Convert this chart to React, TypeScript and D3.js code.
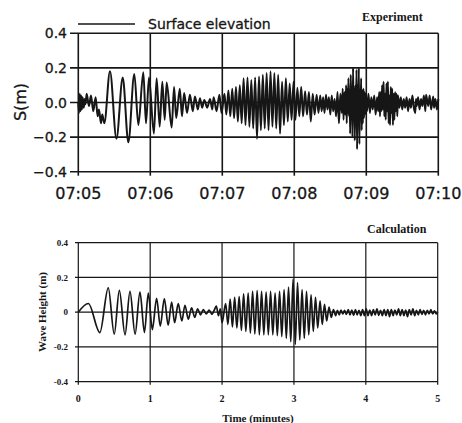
import React from "react";
import * as d3 from "d3";

type P = [number, number];

// ---------- Experiment (top) : time in minutes after 07:05, elevation in m ----------
const expStart: P[] = [[0,0.0],[0.01,-0.06],[0.02,0.05],[0.03,-0.05],[0.04,0.04],[0.05,-0.04],[0.06,0.03],[0.075,-0.03],[0.09,0.02],[0.10,-0.01],[0.116,0.05],[0.148,-0.02],[0.176,0.04],[0.208,-0.05],[0.241,0.03],[0.269,-0.08],[0.287,-0.04],[0.315,-0.12],[0.333,-0.07],[0.361,-0.12]];
const expGroup1: P[] = [[0.44,0.18],[0.53,-0.21],[0.617,0.145],[0.695,-0.23],[0.778,0.165],[0.834,-0.13],[0.903,0.175],[0.94,-0.12],[0.982,0.145],[1.05,-0.18],[1.088,0.14],[1.13,-0.14],[1.167,0.12],[1.20,-0.10],[1.227,0.115],[1.297,-0.145],[1.33,0.09],[1.36,-0.09],[1.41,0.08],[1.44,-0.08],[1.47,0.055],[1.51,-0.06],[1.55,0.045],[1.59,-0.05],[1.62,0.035],[1.66,-0.04],[1.69,0.025],[1.72,-0.03],[1.75,0.015],[1.79,-0.03],[1.83,0.02],[1.86,-0.04],[1.88,0.03],[1.92,-0.05],[1.96,0.045],[1.99,-0.06]];
const expGroup2: P[] = [[2.03,0.05],[2.056,-0.07],[2.085,0.07],[2.111,-0.08],[2.138,0.08],[2.164,-0.09],[2.19,0.09],[2.216,-0.11],[2.243,0.10],[2.269,-0.12],[2.296,0.14],[2.322,-0.13],[2.35,0.145],[2.376,-0.14],[2.403,0.13],[2.429,-0.15],[2.456,0.145],[2.482,-0.21],[2.51,0.15],[2.536,-0.16],[2.563,0.16],[2.589,-0.15],[2.616,0.17],[2.642,-0.16],[2.67,0.18],[2.696,-0.14],[2.723,0.17],[2.749,-0.15],[2.776,0.16],[2.802,-0.18],[2.83,0.12],[2.856,-0.13],[2.883,0.14],[2.909,-0.11],[2.936,0.11],[2.962,-0.10],[2.99,0.12],[3.016,-0.10],[3.043,0.085],[3.069,-0.08],[3.096,0.09],[3.122,-0.08],[3.15,0.065],[3.176,-0.07],[3.203,0.06],[3.229,-0.11],[3.256,0.05],[3.282,-0.07],[3.31,0.045],[3.336,-0.06]];
const expBurst1: P[] = [[3.36,0.04],[3.38,-0.05],[3.40,0.03],[3.42,-0.06],[3.44,0.045],[3.46,-0.04],[3.48,0.03],[3.50,-0.07],[3.52,0.04],[3.54,-0.05],[3.56,0.02],[3.58,-0.08],[3.60,0.06],[3.62,-0.12],[3.64,0.05],[3.66,-0.06],[3.672,0.08],[3.684,-0.10],[3.696,0.06],[3.708,-0.07],[3.72,0.10],[3.728,-0.12],[3.736,0.08],[3.744,-0.06],[3.752,0.14],[3.76,-0.08],[3.768,0.07],[3.776,-0.18],[3.784,0.16],[3.792,-0.06],[3.80,0.06],[3.808,-0.20],[3.816,0.20],[3.824,-0.08],[3.832,0.08],[3.84,-0.22],[3.848,0.10],[3.856,-0.10],[3.864,0.19],[3.872,-0.27],[3.88,0.10],[3.888,-0.12],[3.896,0.20],[3.904,-0.24],[3.912,0.06],[3.92,-0.08],[3.928,0.14],[3.936,-0.16],[3.944,0.07],[3.952,-0.12],[3.96,0.08],[3.968,-0.09],[3.976,0.06],[3.984,-0.07],[3.992,0.05]];
const expBurst2: P[] = [[4.01,-0.05],[4.03,0.05],[4.05,-0.06],[4.07,0.03],[4.09,-0.04],[4.11,0.04],[4.13,-0.07],[4.15,0.03],[4.165,-0.05],[4.18,0.06],[4.19,-0.08],[4.20,0.06],[4.21,-0.05],[4.22,0.10],[4.23,-0.04],[4.24,0.12],[4.25,-0.08],[4.26,0.05],[4.27,-0.10],[4.28,0.11],[4.29,-0.05],[4.30,0.12],[4.31,-0.12],[4.32,0.04],[4.33,-0.13],[4.34,0.09],[4.35,-0.06],[4.36,0.08],[4.37,-0.13],[4.38,0.05],[4.39,-0.10],[4.40,0.06],[4.41,-0.05],[4.42,0.05],[4.43,-0.08],[4.44,0.04]];
const expTail: P[] = [[4.46,-0.03],[4.48,0.03],[4.50,-0.04],[4.52,0.02],[4.54,-0.03],[4.56,0.03],[4.58,-0.05],[4.60,0.02],[4.62,-0.03],[4.64,0.04],[4.66,-0.03],[4.68,-0.06],[4.69,0.02],[4.70,-0.02],[4.72,0.03],[4.74,-0.04],[4.76,0.02],[4.78,-0.02],[4.80,0.04],[4.82,-0.05],[4.83,0.045],[4.86,-0.02],[4.88,0.04],[4.90,-0.04],[4.93,0.035],[4.94,-0.03],[4.96,0.02],[4.98,-0.04],[5.0,0.02]];

// ---------- Calculation (bottom) : time in minutes, wave height in m ----------
const calcGroup1: P[] = [[0,0],[0.14,0.05],[0.30,-0.117],[0.417,0.14],[0.50,-0.126],[0.571,0.126],[0.65,-0.13],[0.719,0.12],[0.79,-0.126],[0.858,0.116],[0.92,-0.117],[0.974,0.11],[1.03,-0.10],[1.09,0.08],[1.14,-0.08],[1.197,0.078],[1.25,-0.075],[1.299,0.058],[1.34,-0.06],[1.39,0.05],[1.44,-0.05],[1.484,0.04],[1.53,-0.04],[1.576,0.025],[1.62,-0.03],[1.66,0.02],[1.70,-0.015],[1.74,0.015],[1.78,-0.01],[1.82,0.012],[1.86,-0.012],[1.89,0.01],[1.92,0.035],[1.95,-0.02],[1.975,0.02],[2.0,-0.06]];
const calcGroup2: P[] = [[2.05,0.05],[2.081,-0.07],[2.113,0.075],[2.144,-0.085],[2.175,0.085],[2.206,-0.09],[2.238,0.09],[2.269,-0.105],[2.3,0.105],[2.331,-0.11],[2.363,0.11],[2.394,-0.12],[2.425,0.12],[2.456,-0.125],[2.488,0.125],[2.519,-0.13],[2.55,0.12],[2.581,-0.13],[2.613,0.115],[2.644,-0.13],[2.675,0.12],[2.706,-0.13],[2.738,0.11],[2.769,-0.135],[2.8,0.12],[2.831,-0.14],[2.863,0.13],[2.894,-0.15],[2.925,0.145],[2.956,-0.17],[2.988,0.19],[3.019,-0.185],[3.05,0.17],[3.081,-0.16],[3.113,0.13],[3.144,-0.15],[3.175,0.12],[3.206,-0.13],[3.238,0.10],[3.269,-0.11],[3.3,0.085],[3.331,-0.09],[3.363,0.065],[3.394,-0.07],[3.425,0.045],[3.456,-0.05],[3.488,0.03],[3.519,-0.03],[3.55,0.015]];
const calcTail: P[] = [[3.58,-0.02],[3.605,0.01],[3.63,-0.015],[3.655,0.012],[3.68,-0.01],[3.705,0.01],[3.73,-0.012],[3.755,0.015],[3.78,-0.015],[3.805,0.012],[3.83,-0.018],[3.855,0.015],[3.88,-0.015],[3.905,0.01],[3.93,-0.02],[3.955,0.015],[3.98,-0.02],[4.005,0.02],[4.03,-0.02],[4.055,0.012],[4.08,-0.02],[4.105,0.015],[4.13,-0.015],[4.155,0.02],[4.18,-0.018],[4.205,0.01],[4.23,-0.02],[4.255,0.015],[4.28,-0.02],[4.305,0.015],[4.33,-0.025],[4.355,0.015],[4.38,-0.02],[4.405,0.012],[4.43,-0.015],[4.455,0.02],[4.48,-0.02],[4.505,0.015],[4.53,-0.02],[4.555,0.012],[4.58,-0.025],[4.605,0.015],[4.63,-0.015],[4.655,0.02],[4.68,-0.02],[4.705,0.01],[4.73,-0.015],[4.755,0.015],[4.78,-0.012],[4.805,0.01],[4.83,-0.015],[4.855,0.01],[4.88,-0.01],[4.905,0.015],[4.93,-0.01],[4.955,0.008],[4.98,-0.01],[5.0,0.0]];

// ---------- ticks ----------
const xTickValues = [0, 1, 2, 3, 4, 5];
const timeLabels = ["07:05", "07:06", "07:07", "07:08", "07:09", "07:10"];
const minuteLabels = ["0", "1", "2", "3", "4", "5"];
const yTickValues = [0.4, 0.2, 0, -0.2, -0.4];
const yLabelsTop = ["0.4", "0.2", "0.0", "\u22120.2", "\u22120.4"];
const yLabelsBottom = ["0.4", "0.2", "0", "-0.2", "-0.4"];

const INK = "#161616";

export default function App() {
  const expData = [...expStart, ...expGroup1, ...expGroup2, ...expBurst1, ...expBurst2, ...expTail];
  const calcData = [...calcGroup1, ...calcGroup2, ...calcTail];

  const xTop = d3.scaleLinear().domain([0, 5]).range([78.3, 438.3]);
  const yTop = d3.scaleLinear().domain([-0.4, 0.4]).range([171.7, 33.3]);
  const xBot = d3.scaleLinear().domain([0, 5]).range([78.3, 437.7]);
  const yBot = d3.scaleLinear().domain([-0.4, 0.4]).range([381.7, 242.7]);

  const lineTop = d3.line<P>().x(d => xTop(d[0])).y(d => yTop(d[1])).curve(d3.curveMonotoneX);
  const lineBot = d3.line<P>().x(d => xBot(d[0])).y(d => yBot(d[1])).curve(d3.curveMonotoneX);

  const sans = "DejaVu Sans, Verdana, sans-serif";
  const serif = "Liberation Serif, Times New Roman, serif";

  return (
    <div style={{ position: "absolute", left: 0, top: 0 }}>
      <svg width={462} height={423} viewBox="0 0 462 423" style={{ display: "block", background: "#fff" }}>
        {/* ===== Top panel ===== */}
        <g>
          {yTickValues.map(v => (
            <line key={"tg" + v} x1={70} x2={xTop(5)} y1={yTop(v)} y2={yTop(v)} stroke={INK} strokeWidth={1.6} />
          ))}
          {xTickValues.map(v => (
            <line key={"tv" + v} x1={xTop(v)} x2={xTop(v)} y1={yTop(0.4)} y2={yTop(-0.4) + 4} stroke={INK} strokeWidth={1.6} />
          ))}
          {yTickValues.map((v, i) => (
            <text key={"tyl" + v} x={67} y={yTop(v)} dy="0.36em" textAnchor="end" fontFamily={sans} fontSize={14} fill={INK} stroke={INK} strokeWidth={0.3}>
              {yLabelsTop[i]}
            </text>
          ))}
          {xTickValues.map((v, i) => (
            <text key={"txl" + v} x={xTop(v)} y={199} textAnchor="middle" fontFamily={sans} fontSize={16} fill={INK} stroke={INK} strokeWidth={0.3}>
              {timeLabels[i]}
            </text>
          ))}
          <text transform="translate(26,102) rotate(-90)" textAnchor="middle" fontFamily={sans} fontSize={16} fill={INK} stroke={INK} strokeWidth={0.3}>
            S(m)
          </text>
          <line x1={78} x2={135} y1={24} y2={24} stroke={INK} strokeWidth={1.6} />
          <text x={148} y={29} fontFamily={sans} fontSize={14} fill={INK} stroke={INK} strokeWidth={0.3}>Surface elevation</text>
          <text x={362} y={21} fontFamily={serif} fontWeight="bold" fontSize={12} fill={INK}>Experiment</text>
          <path d={lineTop(expData) || ""} fill="none" stroke={INK} strokeWidth={2} strokeLinejoin="round" />
        </g>

        {/* ===== Bottom panel ===== */}
        <g>
          {yTickValues.map(v => (
            <line key={"bg" + v} x1={75} x2={xBot(5)} y1={yBot(v)} y2={yBot(v)} stroke={INK} strokeWidth={1.2} />
          ))}
          {xTickValues.map(v => (
            <line key={"bv" + v} x1={xBot(v)} x2={xBot(v)} y1={yBot(0.4)} y2={yBot(-0.4) + 3} stroke={INK} strokeWidth={1.2} />
          ))}
          {yTickValues.map((v, i) => (
            <text key={"byl" + v} x={68} y={yBot(v)} dy="0.35em" textAnchor="end" fontFamily={serif} fontWeight="bold" fontSize={9} fill={INK}>
              {yLabelsBottom[i]}
            </text>
          ))}
          {xTickValues.map((v, i) => (
            <text key={"bxl" + v} x={xBot(v)} y={402} textAnchor="middle" fontFamily={serif} fontWeight="bold" fontSize={10} fill={INK}>
              {minuteLabels[i]}
            </text>
          ))}
          <text transform="translate(46,312) rotate(-90)" textAnchor="middle" fontFamily={serif} fontWeight="bold" fontSize={11} fill={INK}>
            Wave Height (m)
          </text>
          <text x={258} y={422} textAnchor="middle" fontFamily={serif} fontWeight="bold" fontSize={11} fill={INK}>
            Time (minutes)
          </text>
          <text x={367} y={233} fontFamily={serif} fontWeight="bold" fontSize={12} fill={INK}>Calculation</text>
          <path d={lineBot(calcData) || ""} fill="none" stroke={INK} strokeWidth={1.7} strokeLinejoin="round" />
        </g>
      </svg>
    </div>
  );
}
